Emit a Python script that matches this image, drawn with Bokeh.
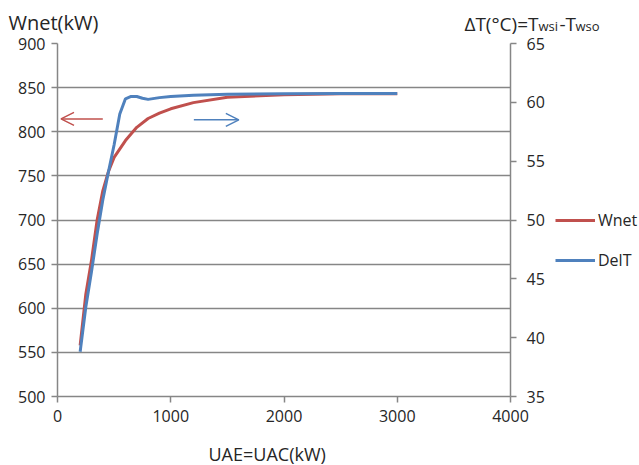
from bokeh.plotting import figure
from bokeh.layouts import column, row
from bokeh.models import (Range1d, LinearAxis, FixedTicker, Label, Arrow, OpenHead,
                          Legend, LegendItem)
from bokeh.embed import file_html
from bokeh.resources import INLINE

# ---- data ----
ua_wnet = [200, 250, 300, 350, 400, 450, 500, 600, 700, 800, 900, 1000, 1200, 1500, 2000, 2500, 3000]
wnet = [558, 616, 654, 700, 733, 755, 771, 790, 805, 815, 821, 826, 833, 839, 842, 843, 843]

ua_delt = [200, 250, 300, 350, 400, 450, 500, 550, 600, 650, 700, 750, 800, 900, 1000, 1200, 1500, 2000, 2500, 3000]
delt = [38.8, 42.6, 45.6, 48.8, 51.7, 54.1, 56.4, 59.0, 60.3, 60.5, 60.5, 60.35, 60.25, 60.4, 60.5, 60.6, 60.68, 60.73, 60.75, 60.75]

series_names = ["Wnet", "DelT"]
x_ticks = [0, 1000, 2000, 3000, 4000]
left_ticks = [500, 550, 600, 650, 700, 750, 800, 850, 900]
right_ticks = [35, 40, 45, 50, 55, 60, 65]

RED = "#C0504D"
BLUE = "#4F81BD"
GRID = "#868686"
TXT = "#262626"
FONT = "Open Sans"
FS = "16px"

W, H = 639, 465
TOP_H = 34          # title strip height
BOT_H = 25          # x-title strip height
MAIN_W = 552        # main chart width (frame 57..510 + right axis)
BODY_H = H - TOP_H - BOT_H
SHIFT = 5

def strip(height):
    f = figure(width=W, height=height, output_backend="svg", toolbar_location=None,
               title=None, x_range=Range1d(0, W), y_range=Range1d(height, 0),
               x_axis_type=None, y_axis_type=None, min_border=0)
    f.outline_line_color = None
    f.xgrid.visible = False
    f.ygrid.visible = False
    return f

def lab(fig, x, y, t, size, align="left"):
    fig.add_layout(Label(x=x, y=y - SHIFT, text=t, text_font=FONT, text_font_size=size,
                         text_color=TXT, text_baseline="alphabetic", text_align=align))

# ---- title strip ----
top = strip(TOP_H)
lab(top, 8, 27, "Wnet(kW)", "20px")
lab(top, 538, 28, "ΔT(°C)=T", "19px", "right")
lab(top, 538, 30, "wsi", "13px")
lab(top, 559, 28, "-T", "19px")
lab(top, 575, 30, "wso", "13px")

# ---- x-title strip ----
bot = strip(BOT_H)
lab(bot, 208, 458 - (H - BOT_H), "UAE=UAC(kW)", "18px")

# ---- main chart ----
p = figure(width=MAIN_W, height=BODY_H, output_backend="svg", toolbar_location=None,
           title=None, x_range=Range1d(0, 4000), y_range=Range1d(500, 900),
           min_border_left=57, min_border_right=MAIN_W - 510,
           min_border_top=43 - TOP_H, min_border_bottom=(H - BOT_H) - 396)
p.outline_line_color = None
p.extra_y_ranges = {"right": Range1d(35, 65)}

p.xgrid.visible = False
p.ygrid.grid_line_color = GRID
p.ygrid.grid_line_width = 1.5
p.ygrid.ticker = FixedTicker(ticks=left_ticks)

def style_axis(ax):
    ax.axis_line_color = GRID
    ax.axis_line_width = 1.5
    ax.major_tick_line_color = GRID
    ax.major_tick_line_width = 1.5
    ax.major_tick_out = 6
    ax.major_tick_in = 0
    ax.minor_tick_line_color = None
    ax.major_label_text_font = FONT
    ax.major_label_text_font_size = FS
    ax.major_label_text_color = TXT

p.xaxis.ticker = FixedTicker(ticks=x_ticks)
p.yaxis.ticker = FixedTicker(ticks=left_ticks)
style_axis(p.xaxis[0])
style_axis(p.yaxis[0])
p.xaxis.major_label_standoff = 7
p.yaxis.major_label_standoff = 6

rax = LinearAxis(y_range_name="right", ticker=FixedTicker(ticks=right_ticks))
style_axis(rax)
rax.major_label_standoff = 10
p.add_layout(rax, "right")

p.line(ua_wnet, wnet, line_color=RED, line_width=3)
p.line(ua_delt, delt, line_color=BLUE, line_width=3, y_range_name="right")

p.add_layout(Arrow(end=OpenHead(size=13, line_color=RED, line_width=1.5),
                   x_start=400, y_start=814.5, x_end=31, y_end=814.5,
                   line_color=RED, line_width=1.5))
p.add_layout(Arrow(end=OpenHead(size=13, line_color=BLUE, line_width=1.5),
                   x_start=1204, y_start=813.5, x_end=1601, y_end=813.5,
                   line_color=BLUE, line_width=1.5))

# ---- legend strip (its frame is aligned with the main frame: 43..396) ----
lg = figure(width=W - MAIN_W, height=BODY_H, output_backend="svg", toolbar_location=None,
            title=None, x_range=Range1d(0, 1), y_range=Range1d(0, 1),
            x_axis_type=None, y_axis_type=None, min_border=0)
lg.outline_line_color = None
lg.xgrid.visible = False
lg.ygrid.visible = False
# same series, outside this strip's ranges (invisible) - used only for legend keys
d1 = lg.line(ua_wnet, wnet, line_color=RED, line_width=3)
d2 = lg.line(ua_delt, delt, line_color=BLUE, line_width=3)
legend = Legend(items=[LegendItem(label=series_names[0], renderers=[d1]),
                       LegendItem(label=series_names[1], renderers=[d2])],
                location=(555 - MAIN_W, 125), orientation="vertical",
                border_line_color=None, background_fill_alpha=0,
                padding=0, margin=0, spacing=18, glyph_width=40, glyph_height=20,
                label_standoff=3, label_text_font=FONT, label_text_font_size="16px",
                label_text_color=TXT)
lg.add_layout(legend)

layout = column(top, row(p, lg, spacing=0), bot, spacing=0)
open("out.html", "w").write(file_html(layout, INLINE))
